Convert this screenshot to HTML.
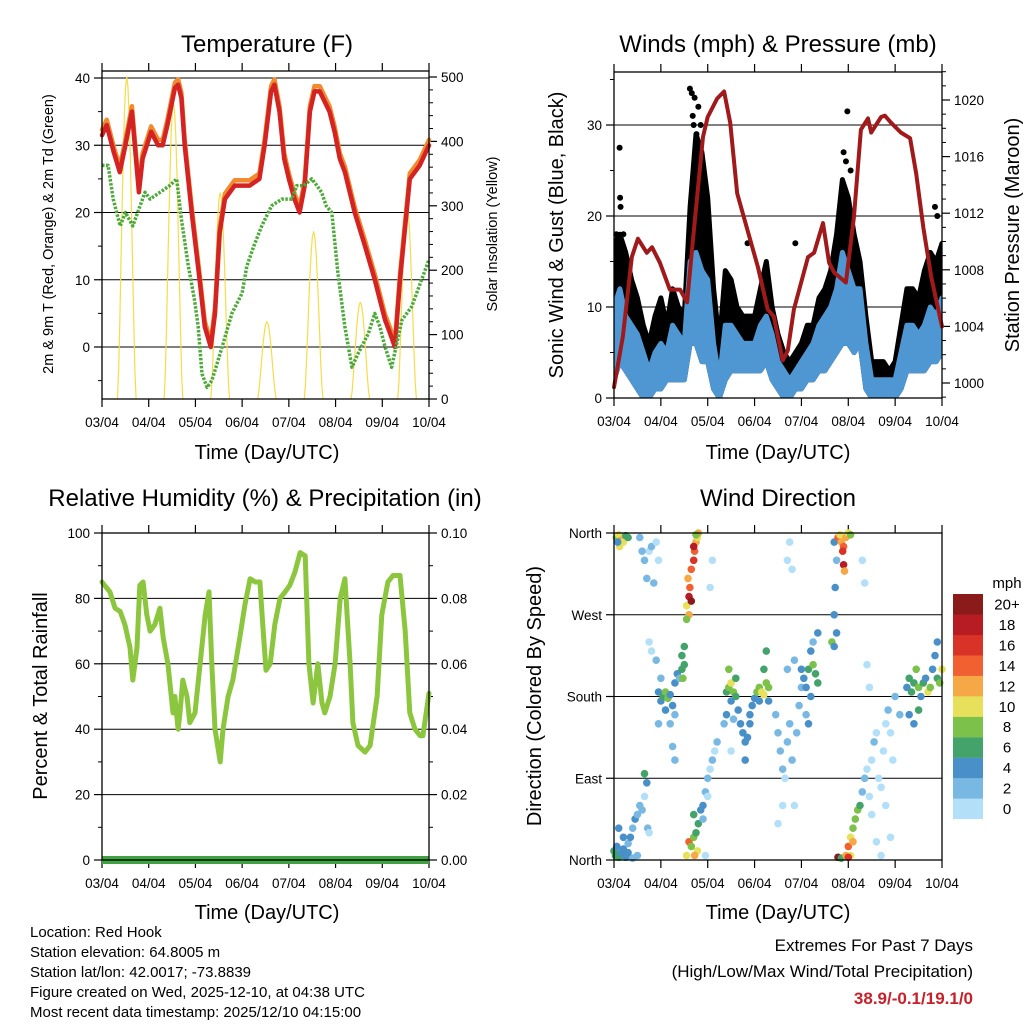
<!DOCTYPE html>
<html><head><meta charset="utf-8"><style>
body{margin:0;background:#fff}
svg{display:block;font-family:"Liberation Sans",Arial,sans-serif}
</style></head><body>
<svg id="c" width="1024" height="1024" viewBox="0 0 1024 1024" xmlns="http://www.w3.org/2000/svg">
<rect width="1024" height="1024" fill="#fff"/>
<g id="g"></g>
<text x="267" y="52" font-size="24" text-anchor="middle">Temperature (F)</text>
<text x="778" y="52" font-size="24" text-anchor="middle">Winds (mph) &amp; Pressure (mb)</text>
<text x="265" y="506" font-size="24" text-anchor="middle">Relative Humidity (%) &amp; Precipitation (in)</text>
<text x="778" y="506" font-size="24" text-anchor="middle">Wind Direction</text>
<text transform="translate(53,234) rotate(-90)" font-size="14.5" text-anchor="middle">2m &amp; 9m T (Red, Orange) &amp; 2m Td (Green)</text>
<text transform="translate(497,234) rotate(-90)" font-size="14.5" text-anchor="middle">Solar Insolation (Yellow)</text>
<text transform="translate(563,235) rotate(-90)" font-size="20" text-anchor="middle">Sonic Wind &amp; Gust (Blue, Black)</text>
<text transform="translate(1019,235) rotate(-90)" font-size="20" text-anchor="middle">Station Pressure (Maroon)</text>
<text transform="translate(47,696) rotate(-90)" font-size="20" text-anchor="middle">Percent &amp; Total Rainfall</text>
<text transform="translate(541,696) rotate(-90)" font-size="20" text-anchor="middle">Direction (Colored By Speed)</text>
<text x="267" y="459" font-size="20" text-anchor="middle">Time (Day/UTC)</text>
<text x="778" y="459" font-size="20" text-anchor="middle">Time (Day/UTC)</text>
<text x="267" y="919" font-size="20" text-anchor="middle">Time (Day/UTC)</text>
<text x="778" y="919" font-size="20" text-anchor="middle">Time (Day/UTC)</text>
<g font-size="15">
<text x="30" y="937">Location: Red Hook</text>
<text x="30" y="957">Station elevation: 64.8005 m</text>
<text x="30" y="977">Station lat/lon: 42.0017; -73.8839</text>
<text x="30" y="997">Figure created on Wed, 2025-12-10, at 04:38 UTC</text>
<text x="30" y="1017">Most recent data timestamp: 2025/12/10 04:15:00</text>
</g>
<g font-size="17" text-anchor="end">
<text x="973" y="951">Extremes For Past 7 Days</text>
<text x="973" y="977">(High/Low/Max Wind/Total Precipitation)</text>
<text x="973" y="1004" fill="#c8202a" font-weight="bold">38.9/-0.1/19.1/0</text>
</g>
</svg>
<script>
const dayLabels=["03/04","04/04","05/04","06/04","07/04","08/04","09/04","10/04"];
const tempTimes=[0,0.1,0.25,0.38,0.5,0.64,0.79,0.87,1.05,1.2,1.3,1.4,1.56,1.63,1.7,1.77,1.92,2.09,2.2,2.33,2.42,2.52,2.63,2.84,3.16,3.37,3.48,3.62,3.69,3.8,3.9,4.0,4.12,4.23,4.34,4.45,4.55,4.66,4.87,4.98,5.09,5.2,5.41,5.63,5.84,5.95,6.06,6.17,6.27,6.38,6.59,6.8,7.0];
const tempVals=[31.5,33,29,26,30,35,23,28,32,30,30,33,38.5,39,37,30,20,10,3,0,5,17,22,24,24,25,30,38,39,35,28,25,22,20,24,35,38,38,35,32,28,26,20,15,10,7,4,2,0,10,25,27,30];
const dewTimes=[0,0.13,0.24,0.39,0.5,0.66,0.92,1.03,1.45,1.6,1.7,1.85,1.98,2.06,2.14,2.25,2.35,2.44,2.57,2.78,3.0,3.1,3.25,3.42,3.63,3.85,4.06,4.17,4.32,4.49,4.6,4.7,4.8,4.92,5.05,5.2,5.35,5.48,5.7,5.84,5.95,6.06,6.2,6.42,6.63,7.0];
const dewVals=[27,27,22,18,20,18,23,22,24,25,19,12,7,3,-4,-6,-5,-3,0,5,8,12,15,18,21,22,22,24,24,25,24,23,21,20,11,3,-3,-1,2,5,3,0,-3,4,6,13];
const solarPeaks=[500,460,320,120,260,150,300];
const presTimes=[0,0.19,0.38,0.51,0.7,0.81,0.98,1.19,1.41,1.56,1.69,1.9,2.0,2.2,2.35,2.48,2.63,2.85,3.07,3.28,3.41,3.6,3.71,3.84,4.14,4.27,4.46,4.59,4.7,4.95,5.12,5.27,5.42,5.49,5.7,5.78,5.91,6.12,6.32,6.45,6.6,6.77,7.0];
const presVals=[999.7,1003.3,1008.9,1010.2,1009.2,1009.6,1008.5,1006.6,1006.6,1005.7,1010.3,1017.4,1018.8,1020.1,1020.6,1018.4,1013.4,1010.8,1008.2,1005.2,1004.7,1001.6,1002.3,1005.2,1008.9,1009.2,1011.3,1008.5,1007.8,1007.1,1011.7,1017.9,1018.7,1017.7,1018.8,1018.9,1018.4,1017.7,1017.3,1014.8,1011.0,1007.5,1004.0];
const windTimes=[0,0.125,0.25,0.375,0.5,0.625,0.75,0.875,1,1.125,1.25,1.375,1.5,1.625,1.75,1.875,2,2.125,2.25,2.375,2.5,2.625,2.75,2.875,3,3.125,3.25,3.375,3.5,3.625,3.75,3.875,4,4.125,4.25,4.375,4.5,4.625,4.75,4.875,5,5.125,5.25,5.375,5.5,5.625,5.75,5.875,6,6.125,6.25,6.375,6.5,6.625,6.75,6.875,7];
const gustHigh=[17,18,16,13,11,8,6,9,11,8,12,10,9,21,29,27,22,12,6,14,13,10,9,9,9,12,15,10,7,5,4,5,6,8,8,11,12,14,18,24,22,18,15,9,4,4,4,3,4,8,12,12,11,14,16,15,17];
const windHigh=[10,12,9,8,7,5,3,5,6,5,8,7,6,15,16,14,13,6,2,8,8,7,6,6,6,8,9,7,4,3,2,3,4,5,6,8,9,10,12,16,14,12,12,6,2,2,2,2,2,5,8,8,7,8,10,9,11];
const windLow=[2,4,3,2,1,0,0,1,1,2,2,2,2,6,6,4,4,1,0,2,3,3,3,3,3,3,4,2,1,0,0,1,1,2,2,3,3,4,5,6,6,5,6,1,0,0,0,0,0,1,3,3,3,3,4,4,5];
const gustOutTimes=[0.12,0.13,0.14,1.62,1.66,1.72,1.8,1.7,1.68,1.76,1.85,2.85,3.87,4.98,5.05,6.85,6.9,1.95,0.05,0.2,4.95,4.9];
const gustOutVals=[27.5,22,21,34,33.5,33,32,30,31,29,30,17,17,31.5,25,21,20,19,18,18,26,27];
const rhTimes=[0,0.17,0.28,0.39,0.49,0.60,0.66,0.75,0.81,0.88,0.96,1.03,1.13,1.24,1.31,1.41,1.52,1.56,1.63,1.67,1.73,1.82,1.88,1.99,2.10,2.21,2.29,2.35,2.42,2.53,2.59,2.70,2.80,2.95,3.06,3.17,3.28,3.38,3.45,3.51,3.60,3.70,3.81,3.92,4.02,4.13,4.24,4.35,4.43,4.52,4.62,4.71,4.77,4.88,4.99,5.10,5.20,5.31,5.37,5.48,5.63,5.74,5.89,5.99,6.12,6.23,6.38,6.49,6.59,6.70,6.81,6.87,6.94,7.0];
const rhVals=[85,82,77,76,72,65,55,65,84,85,75,70,72,77,68,60,45,50,40,45,55,50,42,45,60,75,82,60,40,30,40,50,55,68,78,86,85,85,70,58,60,72,80,82,84,88,94,93,60,48,60,48,45,50,60,80,86,60,42,35,33,35,50,75,85,87,87,70,45,40,38,38,45,51];
const precipVals=[0,0];
const dirTimes=[0.05,0.1,0.15,0.2,0.25,0.3,0.12,0.08,0.65,0.75,0.8,0.9,0.95,0.7,0.85,0.55,0.6,0.75,0.8,0.0,0.03,0.06,0.1,0.15,0.2,0.25,0.3,0.35,0.4,0.45,0.5,0.55,0.6,0.65,0.7,0.72,0.5,0.4,0.2,0.1,0.3,0.65,0.75,0.95,1.0,1.05,1.1,1.15,1.2,1.25,1.3,1.3,1.0,0.95,1.1,1.2,1.35,1.25,0.9,1.4,1.3,1.45,1.47,1.5,1.45,1.5,1.55,1.6,1.6,1.62,1.58,1.65,1.7,1.72,1.75,1.78,1.8,1.7,1.55,1.65,1.75,1.55,1.6,1.65,1.7,1.75,1.8,1.78,1.72,1.85,1.9,1.7,1.95,2.0,2.05,2.1,2.15,2.0,1.9,2.2,1.95,2.05,2.1,2.4,2.45,2.5,2.55,2.6,2.5,2.45,2.4,2.6,2.55,2.35,2.5,2.65,2.7,2.75,2.8,2.85,2.9,2.95,3.0,2.8,2.9,3.05,3.1,3.15,3.2,3.25,3.3,3.2,3.25,3.3,3.1,3.45,3.5,3.55,3.6,3.65,3.7,3.75,3.8,3.85,3.9,3.95,4.0,3.6,3.7,3.75,3.8,3.7,3.85,3.5,4.05,4.1,4.15,4.2,4.25,4.3,4.35,4.2,4.25,4.35,4.1,4.15,4.0,4.65,4.7,4.75,4.7,4.72,4.75,4.7,4.78,4.82,4.85,4.9,4.95,5.0,4.88,5.05,4.9,4.92,4.78,4.85,4.95,5.0,5.05,5.1,5.15,5.2,5.25,5.05,5.1,5.0,5.3,5.35,5.4,5.45,5.5,5.55,5.6,5.65,5.7,5.75,5.8,5.85,5.9,5.95,6.0,5.5,5.6,5.7,5.3,5.35,5.4,5.45,5.9,6.1,5.8,6.25,6.3,6.35,6.4,6.45,6.5,6.55,6.6,6.65,6.7,6.75,6.8,6.85,6.9,6.95,7.0,6.3,6.4,6.9,6.5];
const dirVals=[355,358,352,350,357,355,345,350,330,340,345,350,330,310,305,355,340,240,230,10,5,15,3,8,12,3,18,25,35,45,50,60,55,70,85,35,5,2,25,35,8,95,30,185,175,180,185,178,182,170,195,160,200,150,165,150,205,125,220,200,110,210,200,215,225,235,280,270,290,300,310,320,330,340,350,355,360,345,265,285,358,5,20,15,25,30,40,10,5,55,60,50,75,90,100,110,120,70,45,130,5,300,330,185,190,195,185,180,175,210,160,200,155,150,120,165,150,140,130,135,160,170,178,110,150,185,190,185,182,195,190,210,230,175,175,160,140,120,100,90,130,150,110,60,140,170,190,60,330,350,320,210,220,40,200,190,210,230,215,205,195,180,240,250,160,150,210,240,235,250,270,300,330,350,355,358,350,345,355,360,340,358,325,318,3,2,5,15,25,35,45,55,60,5,20,3,75,90,100,70,110,130,140,90,80,120,150,165,140,110,180,50,20,5,330,305,215,190,25,160,60,190,200,185,195,210,190,180,195,200,185,190,210,225,200,195,210,160,150,240,165];
const dirSpeeds=[9,10,12,10,7,6,10,4,2,1,2,1,0,2,3,3,2,1,0,6,7,5,6,4,5,4,3,4,3,4,2,3,2,1,4,2,2,3,4,4,5,6,1,4,4,7,8,8,4,4,5,3,3,2,4,3,4,3,2,3,2,7,8,7,6,6,10,12,18,14,12,14,16,14,12,10,12,18,8,20,8,10,14,8,8,7,6,10,12,4,5,6,2,3,1,2,1,1,2,2,1,1,0,6,8,10,8,7,4,8,4,6,2,2,1,4,4,4,4,4,4,5,4,4,4,8,8,10,10,9,8,6,6,4,5,2,2,2,3,1,2,2,3,0,2,2,3,1,1,0,0,2,2,1,4,4,6,4,8,6,6,4,3,4,3,4,4,8,4,4,4,4,3,4,14,10,12,14,12,10,16,8,18,12,20,6,12,14,10,8,8,8,6,10,12,16,3,2,1,0,1,2,1,0,0,0,1,2,0,1,2,1,0,0,1,0,0,0,0,2,1,4,6,6,6,8,8,4,6,4,10,8,4,4,6,8,10,4,4,4,6];
const speedColors=["#b3e0f8","#7ab8e4","#4a90c8","#44a36b","#7cc14a","#e6e05a","#f6a846","#f06030","#d93327","#b81c23","#8b1a1a"];
const speedLabels=["0","2","4","6","8","10","12","14","16","18","20+"];

const NS="http://www.w3.org/2000/svg";
const G=document.getElementById('g');
function mk(tag,attrs,parent){const e=document.createElementNS(NS,tag);for(const k in attrs)e.setAttribute(k,attrs[k]);(parent||G).appendChild(e);return e;}
function lin(d0,d1,r0,r1){return v=>r0+(v-d0)*(r1-r0)/(d1-d0);}

const P1={x0:102,x1:429,y0:71,y1:399},P2={x0:614,x1:942,y0:72,y1:398},P3={x0:102,x1:429,y0:533,y1:860},P4={x0:614,x1:942,y0:533,y1:860};
function frame(P,name){
  const xs=lin(0,7,P.x0,P.x1);
  const g=mk('g',{});
  
  
  for(let i=0;i<8;i++){const x=xs(i);
    mk('line',{x1:x,x2:x,y1:P.y1,y2:P.y1+8,stroke:'#000','stroke-width':1.2},g);
    mk('line',{x1:x,x2:x,y1:P.y0,y2:P.y0-8,stroke:'#000','stroke-width':1.2},g);
    const t=mk('text',{x:x,y:P.y1+28,'font-size':13.5,'text-anchor':'middle'},g);t.textContent=dayLabels[i];
    
    
  }
  return xs;
}
function border(P){mk('rect',{x:P.x0,y:P.y0,width:P.x1-P.x0,height:P.y1-P.y0,fill:'none',stroke:'#000','stroke-width':1.3});}
function yAxis(P,sc,ticks,labels,minor,side,grid){
  const xa=side==='l'?P.x0:P.x1,dir=side==='l'?-1:1;
  ticks.forEach((v,i)=>{const y=sc(v);
    if(grid) mk('line',{x1:P.x0,x2:P.x1,y1:y,y2:y,stroke:'#000','stroke-width':1});
    mk('line',{x1:xa,x2:xa+dir*8,y1:y,y2:y,stroke:'#000','stroke-width':1.2});
    const t=mk('text',{x:xa+dir*12,y:y+5,'font-size':13.5,'text-anchor':side==='l'?'end':'start'});t.textContent=labels[i];
    
    
  });
  minor.forEach(v=>{const y=sc(v);mk('line',{x1:xa,x2:xa+dir*4,y1:y,y2:y,stroke:'#000','stroke-width':1});});
}
function path(xsArr,ysArr,xs,ys,attrs,name){
  let d='';for(let i=0;i<xsArr.length;i++)d+=(i?'L':'M')+xs(xsArr[i]).toFixed(1)+','+ys(ysArr[i]).toFixed(1);
  const p=mk('path',Object.assign({d:d,fill:'none','stroke-linejoin':'round','stroke-linecap':'round'},attrs));
  
  
  return p;
}

// Panel 1
(function(){
  const P=P1;const xs=frame(P,'temperature');
  const ty=lin(0,40,347,78), sy=lin(0,500,399,77);
  yAxis(P,ty,[0,10,20,30,40],["0","10","20","30","40"],[-5,5,15,25,35],'l',true);
  yAxis(P,sy,[0,100,200,300,400,500],["0","100","200","300","400","500"],[20,40,60,80,120,140,160,180,220,240,260,280,320,340,360,380,420,440,460,480],'r',false);
  const cl=mk('clipPath',{id:'cp1'});mk('rect',{x:P.x0,y:P.y0,width:P.x1-P.x0,height:P.y1-P.y0},cl);
  solarPeaks.forEach((pk,k)=>{
    const ts=[],vs=[];
    for(let j=0;j<=16;j++){const f=j/16;ts.push(k+0.33+f*0.4);vs.push(pk*Math.pow(Math.sin(Math.PI*f),1.5));}
    path(ts,vs,xs,sy,{stroke:'#f5dc4a','stroke-width':1.2,'clip-path':'url(#cp1)'},'solar-day-'+k);
  });
  path(tempTimes,tempVals.map(v=>v+0.8),xs,ty,{stroke:'#f28a2e','stroke-width':4.5},'temp-9m-line');
  path(tempTimes,tempVals,xs,ty,{stroke:'#d42323','stroke-width':4.5},'temp-2m-line');
  path(dewTimes,dewVals,xs,ty,{stroke:'#4daa3a','stroke-width':3.5,'stroke-dasharray':'2.5 1.5','stroke-linecap':'butt'},'dewpoint-line');
  border(P);
})();

// Panel 2
(function(){
  const P=P2;const xs=frame(P,'winds');
  const wy=lin(0,30,398,125), py=lin(1000,1020,383,100);
  yAxis(P,wy,[0,10,20,30],["0","10","20","30"],[5,15,25,35],'l',true);
  const mn=[];for(let p=999;p<=1022;p++)if(p%4)mn.push(p);
  yAxis(P,py,[1000,1004,1008,1012,1016,1020],["1000","1004","1008","1012","1016","1020"],mn,'r',false);
  const cl=mk('clipPath',{id:'cp2'});mk('rect',{x:P.x0,y:P.y0,width:P.x1-P.x0,height:P.y1-P.y0},cl);
  function band(lo,hi,fill,name){
    let d='';windTimes.forEach((t,i)=>{d+=(i?'L':'M')+xs(t).toFixed(1)+','+wy(hi[i]).toFixed(1);});
    for(let i=windTimes.length-1;i>=0;i--)d+='L'+xs(windTimes[i]).toFixed(1)+','+wy(lo[i]).toFixed(1);
    const p=mk('path',{d:d+'Z',fill:fill,stroke:fill,'stroke-width':5,'stroke-linejoin':'round','clip-path':'url(#cp2)'});
    
    
  }
  band(windLow,gustHigh,'#000','gust-band');
  gustOutTimes.forEach((t,i)=>{const c=mk('circle',{cx:xs(t),cy:wy(gustOutVals[i]),r:3,fill:'#000'});
    
    });
  band(windLow,windHigh,'#4f97d2','sustained-wind-band');
  path(presTimes,presVals,xs,py,{stroke:'#a01a1c','stroke-width':4},'pressure-line');
  border(P);
})();

// Panel 3
(function(){
  const P=P3;const xs=frame(P,'humidity');
  const ry=lin(0,100,860,533), qy=lin(0,0.1,860,533);
  yAxis(P,ry,[0,20,40,60,80,100],["0","20","40","60","80","100"],[10,30,50,70,90],'l',true);
  yAxis(P,qy,[0,0.02,0.04,0.06,0.08,0.1],["0.00","0.02","0.04","0.06","0.08","0.10"],[0.01,0.03,0.05,0.07,0.09],'r',false);
  path(rhTimes,rhVals,xs,ry,{stroke:'#8cc63f','stroke-width':5},'humidity-line');
  path([0,7],precipVals,xs,qy,{stroke:'#3fa142','stroke-width':8,'stroke-linecap':'butt'},'precip-line');
  border(P);
})();

// Panel 4
(function(){
  const P=P4;const xs=frame(P,'direction');
  const dy=lin(0,360,860,533);
  yAxis(P,dy,[0,90,180,270,360],["North","East","South","West","North"],[],'l',true);
  dirTimes.forEach((t,i)=>{
    const c=mk('circle',{cx:xs(t).toFixed(1),cy:dy(dirVals[i]).toFixed(1),r:3.8,fill:speedColors[Math.min(10,Math.floor(dirSpeeds[i]/2))]});
    
    
  });
  border(P);
  const lg=mk('g',{});
  
  
  const t0=mk('text',{x:1007,y:588,'font-size':15,'text-anchor':'middle'},lg);t0.textContent='mph';
  for(let i=0;i<11;i++){const y=594+(10-i)*20.45;
    mk('rect',{x:953,y:y,width:30,height:20.6,fill:speedColors[i]},lg);
    const t=mk('text',{x:1007,y:y+15.5,'font-size':15,'text-anchor':'middle'},lg);t.textContent=speedLabels[i];
  }
})();
</script>
</body></html>
